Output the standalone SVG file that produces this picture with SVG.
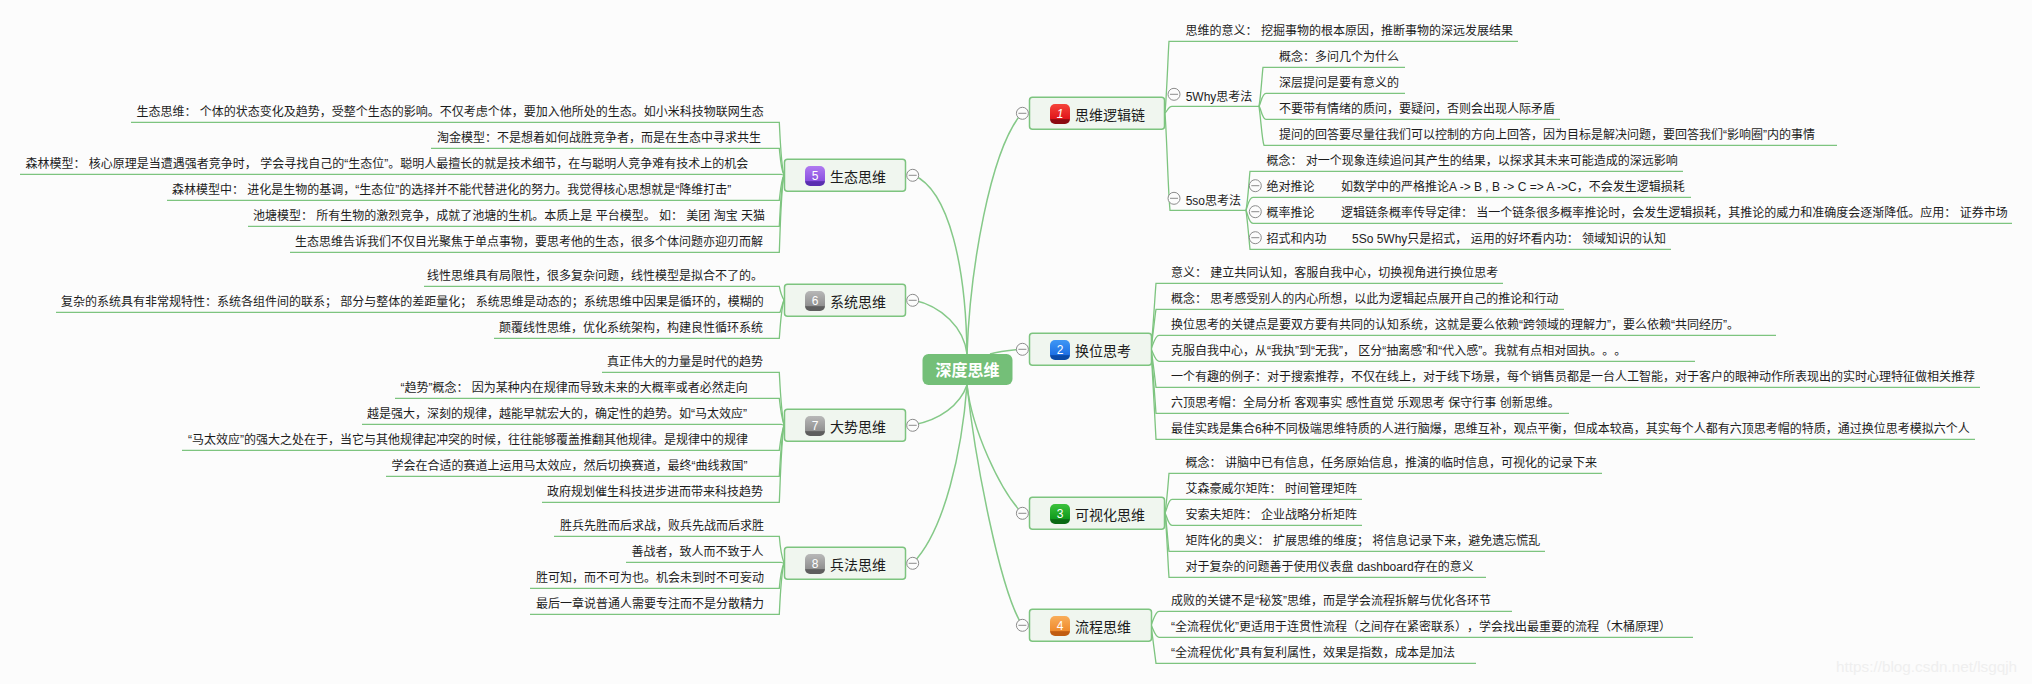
<svg xmlns="http://www.w3.org/2000/svg" width="2032" height="684" viewBox="0 0 2032 684">
<style>
text{font-family:"Liberation Sans","Noto Sans CJK SC",sans-serif;fill:#1c1c1c;text-spacing-trim:space-all}
.t{font-size:12px}
.h{font-size:14px}
.n{fill:#f0f6ef;stroke:#7dc47f;stroke-width:1.5}
.i{stroke:none}
.d{font-size:12px;fill:#fff;text-anchor:middle}
.c{fill:none;stroke:#7dc47f;stroke-width:1.3}
.b{fill:none;stroke:#85c988;stroke-width:1.5}
.m{fill:#fcfcfc;stroke:#8c8c8c;stroke-width:1}
.wm{font-size:15.3px;fill:#efefef}
</style>
<defs>
<linearGradient id="g1" x1="0" y1="0" x2="0" y2="1"><stop offset="0" stop-color="#f5453a"/><stop offset=".75" stop-color="#e0141a"/><stop offset=".78" stop-color="#8c0a12"/><stop offset="1" stop-color="#8c0a12"/></linearGradient>
<linearGradient id="g2" x1="0" y1="0" x2="0" y2="1"><stop offset="0" stop-color="#3f97f5"/><stop offset=".75" stop-color="#1c6fe4"/><stop offset=".78" stop-color="#0a4aa6"/><stop offset="1" stop-color="#0a4aa6"/></linearGradient>
<linearGradient id="g3" x1="0" y1="0" x2="0" y2="1"><stop offset="0" stop-color="#3cc23c"/><stop offset=".75" stop-color="#0f9a1c"/><stop offset=".78" stop-color="#0a6a14"/><stop offset="1" stop-color="#0a6a14"/></linearGradient>
<linearGradient id="g4" x1="0" y1="0" x2="0" y2="1"><stop offset="0" stop-color="#f9ae5a"/><stop offset=".75" stop-color="#ef8a2c"/><stop offset=".78" stop-color="#c05c10"/><stop offset="1" stop-color="#c05c10"/></linearGradient>
<linearGradient id="g5" x1="0" y1="0" x2="0" y2="1"><stop offset="0" stop-color="#b07af0"/><stop offset=".75" stop-color="#8a50e0"/><stop offset=".78" stop-color="#5a2eb0"/><stop offset="1" stop-color="#5a2eb0"/></linearGradient>
<linearGradient id="g6" x1="0" y1="0" x2="0" y2="1"><stop offset="0" stop-color="#b8b8b8"/><stop offset=".75" stop-color="#909090"/><stop offset=".78" stop-color="#5e5e5e"/><stop offset="1" stop-color="#5e5e5e"/></linearGradient>
<g id="minus"><circle r="6" class="m"/><path d="M-4 0H4" stroke="#8c8c8c" fill="none"/></g>
</defs>
<rect width="2032" height="684" fill="#fcfcfc"/>
<g id="connectors">
<path class="b" d="M967 354C966 270 950 190 913 175"/>
<path class="b" d="M967 354C964 328 942 306 913 300"/>
<path class="b" d="M967 385C960 405 940 420 913 425"/>
<path class="b" d="M967 385C962 450 945 530 913 563"/>
<path class="b" d="M967 354C970 270 990 150 1022 113"/>
<path class="b" d="M990 354Q1000 351 1022 349"/>
<path class="b" d="M967 385C972 430 1000 490 1022 513"/>
<path class="b" d="M967 385C975 460 1000 590 1022 625"/>
<path class="c" d="M784 175C781 165 780 135 779.3 122.3H131"/>
<path class="c" d="M784 175C781 170 780 155 779.3 148.3H431"/>
<path class="c" d="M784 175Q782 175 781 174.3H20"/>
<path class="c" d="M784 175C781 180 780 195 779.3 200.3H167"/>
<path class="c" d="M784 175C781 185 780 215 779.3 226.3H248"/>
<path class="c" d="M784 175C781 190 780 235 779.3 252.3H290"/>
<path class="c" d="M784 300C781 295 780 290 779.3 286.3H424"/>
<path class="c" d="M784 300C782 305 781 310 780 312.3H56"/>
<path class="c" d="M784 300C781 310 780 330 779.3 338.3H494"/>
<path class="c" d="M784 425C781 410 780 385 779.3 372.3H602"/>
<path class="c" d="M784 425C781 415 780 405 779.3 398.3H395"/>
<path class="c" d="M784 425Q782 425 781 424.3H362"/>
<path class="c" d="M784 425C781 435 780 445 779.3 450.3H182"/>
<path class="c" d="M784 425C781 440 780 465 779.3 476.3H386"/>
<path class="c" d="M784 425C781 445 780 490 779.3 502.3H542"/>
<path class="c" d="M784 563C781 555 780 545 779.3 536.3H554"/>
<path class="c" d="M784 563Q782 563 781 562.3H626"/>
<path class="c" d="M784 563C781 570 780 580 779.3 588.3H530"/>
<path class="c" d="M784 563C781 575 780 600 779.3 614.3H530"/>
<path class="c" d="M1165 113C1167 90 1168 55 1169 41.3H1518"/>
<path class="c" d="M1165 113C1167 112 1168 106.3 1172 106.3H1259"/>
<path class="c" d="M1165 113C1167 140 1168 190 1170 210.3H1246"/>
<path class="c" d="M1259 106.3C1261 95 1262 75 1263 67.3H1405"/>
<path class="c" d="M1259 106.3C1261 103 1262 93.3 1266 93.3H1405"/>
<path class="c" d="M1259 106.3C1261 108 1262 119.3 1266 119.3H1560"/>
<path class="c" d="M1259 106.3C1261 120 1262 140 1264 145.3H1837"/>
<path class="c" d="M1246 210.3C1248 200 1249 180 1250 171.3H1683"/>
<path class="c" d="M1246 210.3C1248 205 1249 197.3 1253 197.3H1691"/>
<path class="c" d="M1246 210.3C1248 215 1249 223.3 1253 223.3H2012"/>
<path class="c" d="M1246 210.3C1248 225 1249 240 1250 249.3H1671"/>
<path class="c" d="M1151 349C1153 330 1155 295 1156 283.3H1503"/>
<path class="c" d="M1151 349C1153 335 1155 315 1156 309.3H1564"/>
<path class="c" d="M1151 349C1153 345 1155 335.3 1159 335.3H1776"/>
<path class="c" d="M1151 349C1153 352 1155 361.3 1159 361.3H1695"/>
<path class="c" d="M1151 349C1153 360 1155 380 1156 387.3H1980"/>
<path class="c" d="M1151 349C1153 370 1155 400 1156 413.3H1569"/>
<path class="c" d="M1151 349C1153 380 1155 425 1156 439.3H1975"/>
<path class="c" d="M1165 513C1167 500 1168 485 1169 473.3H1602"/>
<path class="c" d="M1165 513C1167 510 1168 499.3 1172 499.3H1362"/>
<path class="c" d="M1165 513C1167 516 1168 525.3 1172 525.3H1362"/>
<path class="c" d="M1165 513C1167 525 1168 545 1169 551.3H1545"/>
<path class="c" d="M1165 513C1167 535 1168 565 1169 577.3H1486"/>
<path class="c" d="M1151 625C1153 622 1155 611.3 1159 611.3H1512"/>
<path class="c" d="M1151 625C1153 628 1155 637.3 1159 637.3H1693"/>
<path class="c" d="M1151 625C1153 640 1155 655 1156 663.3H1476"/>
</g>

<g id="root"><rect x="922.5" y="354" width="90" height="31" rx="6" fill="#74bf78"/><text x="967.5" y="375.5" text-anchor="middle" style="font-size:16px;font-weight:bold;fill:#fff">深度思维</text></g>

<g id="topic1"><rect class="n" x="1029.5" y="97.3" width="135" height="32" rx="3"/><rect class="i" x="1050" y="104" width="20" height="20" rx="5" fill="url(#g1)"/><text class="d" x="1060" y="117.5" style="font-style:italic">1</text><text class="h" x="1075" y="120">思维逻辑链</text><use href="#minus" x="1022.4" y="113.3"/></g>
<g id="topic2"><rect class="n" x="1029.5" y="333.3" width="122" height="32" rx="3"/><rect class="i" x="1050" y="340" width="20" height="20" rx="5" fill="url(#g2)"/><text class="d" x="1060" y="353.5">2</text><text class="h" x="1075" y="356">换位思考</text><use href="#minus" x="1022.4" y="349.3"/></g>
<g id="topic3"><rect class="n" x="1029.5" y="497.3" width="135" height="32" rx="3"/><rect class="i" x="1050" y="504" width="20" height="20" rx="5" fill="url(#g3)"/><text class="d" x="1060" y="517.5">3</text><text class="h" x="1075" y="520">可视化思维</text><use href="#minus" x="1022.4" y="513.3"/></g>
<g id="topic4"><rect class="n" x="1029.5" y="609.3" width="122" height="32" rx="3"/><rect class="i" x="1050" y="616" width="20" height="20" rx="5" fill="url(#g4)"/><text class="d" x="1060" y="629.5">4</text><text class="h" x="1075" y="632">流程思维</text><use href="#minus" x="1022.4" y="625.3"/></g>
<g id="topic5"><rect class="n" x="784.5" y="159.3" width="121" height="32" rx="3"/><rect class="i" x="805" y="166" width="20" height="20" rx="5" fill="url(#g5)"/><text class="d" x="815" y="179.5">5</text><text class="h" x="830" y="182">生态思维</text><use href="#minus" x="912.7" y="175.3"/></g>
<g id="topic6"><rect class="n" x="784.5" y="284.3" width="121" height="32" rx="3"/><rect class="i" x="805" y="291" width="20" height="20" rx="5" fill="url(#g6)"/><text class="d" x="815" y="304.5">6</text><text class="h" x="830" y="307">系统思维</text><use href="#minus" x="912.7" y="300.3"/></g>
<g id="topic7"><rect class="n" x="784.5" y="409.3" width="121" height="32" rx="3"/><rect class="i" x="805" y="416" width="20" height="20" rx="5" fill="url(#g6)"/><text class="d" x="815" y="429.5">7</text><text class="h" x="830" y="432">大势思维</text><use href="#minus" x="912.7" y="425.3"/></g>
<g id="topic8"><rect class="n" x="784.5" y="547.3" width="121" height="32" rx="3"/><rect class="i" x="805" y="554" width="20" height="20" rx="5" fill="url(#g6)"/><text class="d" x="815" y="567.5">8</text><text class="h" x="830" y="570">兵法思维</text><use href="#minus" x="912.7" y="563.3"/></g>

<g id="n1-1"><text class="t" x="1185.6" y="35">思维的意义： 挖掘事物的根本原因，推断事物的深远发展结果</text></g>
<g id="n1-2"><text class="t" x="1185.7" y="100.5">5Why思考法</text><use href="#minus" x="1174" y="94.3"/></g>
<g id="n1-3"><text class="t" x="1185.7" y="204.5">5so思考法</text><use href="#minus" x="1174" y="198.3"/></g>
<g id="n1-2-1"><text class="t" x="1279" y="61">概念：多问几个为什么</text></g>
<g id="n1-2-2"><text class="t" x="1279" y="87">深层提问是要有意义的</text></g>
<g id="n1-2-3"><text class="t" x="1279" y="113">不要带有情绪的质问，要疑问，否则会出现人际矛盾</text></g>
<g id="n1-2-4"><text class="t" x="1279" y="139">提问的回答要尽量往我们可以控制的方向上回答，因为目标是解决问题，要回答我们“影响圈”内的事情</text></g>
<g id="n1-3-1"><text class="t" x="1266.5" y="165">概念： 对一个现象连续追问其产生的结果，以探求其未来可能造成的深远影响</text></g>
<g id="n1-3-2"><text class="t" x="1266.5" y="191">绝对推论<tspan x="1341">如数学中的严格推论A -&gt; B , B -&gt; C =&gt; A -&gt;C，不会发生逻辑损耗</tspan></text><use href="#minus" x="1255.3" y="185.7"/></g>
<g id="n1-3-3"><text class="t" x="1266.5" y="217">概率推论<tspan x="1341">逻辑链条概率传导定律： 当一个链条很多概率推论时，会发生逻辑损耗，其推论的威力和准确度会逐渐降低。应用： 证券市场</tspan></text><use href="#minus" x="1255.3" y="211.7"/></g>
<g id="n1-3-4"><text class="t" x="1266.5" y="243">招式和内功<tspan x="1352">5So 5Why只是招式， 运用的好坏看内功： 领域知识的认知</tspan></text><use href="#minus" x="1255.3" y="237.7"/></g>

<g id="n2-1"><text class="t" x="1171" y="277">意义： 建立共同认知，客服自我中心，切换视角进行换位思考</text></g>
<g id="n2-2"><text class="t" x="1171" y="303">概念： 思考感受别人的内心所想，以此为逻辑起点展开自己的推论和行动</text></g>
<g id="n2-3"><text class="t" x="1171" y="329">换位思考的关键点是要双方要有共同的认知系统，这就是要么依赖“跨领域的理解力”，要么依赖“共同经历”。</text></g>
<g id="n2-4"><text class="t" x="1171" y="355">克服自我中心，从“我执”到“无我”， 区分“抽离感”和“代入感”。我就有点相对固执。。。</text></g>
<g id="n2-5"><text class="t" x="1171" y="381">一个有趣的例子：对于搜索推荐，不仅在线上，对于线下场景，每个销售员都是一台人工智能，对于客户的眼神动作所表现出的实时心理特征做相关推荐</text></g>
<g id="n2-6"><text class="t" x="1171" y="407">六顶思考帽：全局分析 客观事实 感性直觉 乐观思考 保守行事 创新思维。</text></g>
<g id="n2-7"><text class="t" x="1171" y="433">最佳实践是集合6种不同极端思维特质的人进行脑爆，思维互补，观点平衡，但成本较高，其实每个人都有六顶思考帽的特质，通过换位思考模拟六个人</text></g>

<g id="n3-1"><text class="t" x="1185.6" y="467">概念： 讲脑中已有信息，任务原始信息，推演的临时信息，可视化的记录下来</text></g>
<g id="n3-2"><text class="t" x="1185.6" y="493">艾森豪威尔矩阵： 时间管理矩阵</text></g>
<g id="n3-3"><text class="t" x="1185.6" y="519">安索夫矩阵： 企业战略分析矩阵</text></g>
<g id="n3-4"><text class="t" x="1185.6" y="545">矩阵化的奥义： 扩展思维的维度； 将信息记录下来，避免遗忘慌乱</text></g>
<g id="n3-5"><text class="t" x="1185.6" y="571">对于复杂的问题善于使用仪表盘 dashboard存在的意义</text></g>

<g id="n4-1"><text class="t" x="1171" y="605">成败的关键不是“秘笈”思维，而是学会流程拆解与优化各环节</text></g>
<g id="n4-2"><text class="t" x="1171" y="631">“全流程优化”更适用于连贯性流程（之间存在紧密联系），学会找出最重要的流程（木桶原理）</text></g>
<g id="n4-3"><text class="t" x="1171" y="657">“全流程优化”具有复利属性，效果是指数，成本是加法</text></g>

<g id="n5-1"><text class="t" x="136.5" y="116">生态思维： 个体的状态变化及趋势，受整个生态的影响。不仅考虑个体，要加入他所处的生态。如小米科技物联网生态</text></g>
<g id="n5-2"><text class="t" x="437" y="142">淘金模型：不是想着如何战胜竞争者，而是在生态中寻求共生</text></g>
<g id="n5-3"><text class="t" x="25.5" y="168">森林模型： 核心原理是当遭遇强者竞争时， 学会寻找自己的“生态位”。聪明人最擅长的就是技术细节，在与聪明人竞争难有技术上的机会</text></g>
<g id="n5-4"><text class="t" x="172" y="194">森林模型中： 进化是生物的基调，“生态位”的选择并不能代替进化的努力。我觉得核心思想就是“降维打击”</text></g>
<g id="n5-5"><text class="t" x="253" y="220">池塘模型： 所有生物的激烈竞争，成就了池塘的生机。本质上是 平台模型。 如： 美团 淘宝 天猫</text></g>
<g id="n5-6"><text class="t" x="295" y="246">生态思维告诉我们不仅目光聚焦于单点事物，要思考他的生态，很多个体问题亦迎刃而解</text></g>

<g id="n6-1"><text class="t" x="427" y="280">线性思维具有局限性，很多复杂问题，线性模型是拟合不了的。</text></g>
<g id="n6-2"><text class="t" x="61" y="306">复杂的系统具有非常规特性：系统各组件间的联系； 部分与整体的差距量化； 系统思维是动态的；系统思维中因果是循环的，模糊的</text></g>
<g id="n6-3"><text class="t" x="499" y="332">颠覆线性思维，优化系统架构，构建良性循环系统</text></g>

<g id="n7-1"><text class="t" x="607" y="366">真正伟大的力量是时代的趋势</text></g>
<g id="n7-2"><text class="t" x="400.5" y="392">“趋势”概念： 因为某种内在规律而导致未来的大概率或者必然走向</text></g>
<g id="n7-3"><text class="t" x="367" y="418">越是强大，深刻的规律，越能早就宏大的，确定性的趋势。如“马太效应”</text></g>
<g id="n7-4"><text class="t" x="188" y="444">“马太效应”的强大之处在于，当它与其他规律起冲突的时候，往往能够覆盖推翻其他规律。是规律中的规律</text></g>
<g id="n7-5"><text class="t" x="391.6" y="470">学会在合适的赛道上运用马太效应，然后切换赛道，最终“曲线救国”</text></g>
<g id="n7-6"><text class="t" x="547" y="496">政府规划催生科技进步进而带来科技趋势</text></g>

<g id="n8-1"><text class="t" x="560" y="530">胜兵先胜而后求战，败兵先战而后求胜</text></g>
<g id="n8-2"><text class="t" x="631.5" y="556">善战者，致人而不致于人</text></g>
<g id="n8-3"><text class="t" x="536" y="582">胜可知，而不可为也。机会未到时不可妄动</text></g>
<g id="n8-4"><text class="t" x="536" y="608">最后一章说普通人需要专注而不是分散精力</text></g>

<text class="wm" x="1836" y="672">https://blog.csdn.net/lsgqjh</text>
</svg>
